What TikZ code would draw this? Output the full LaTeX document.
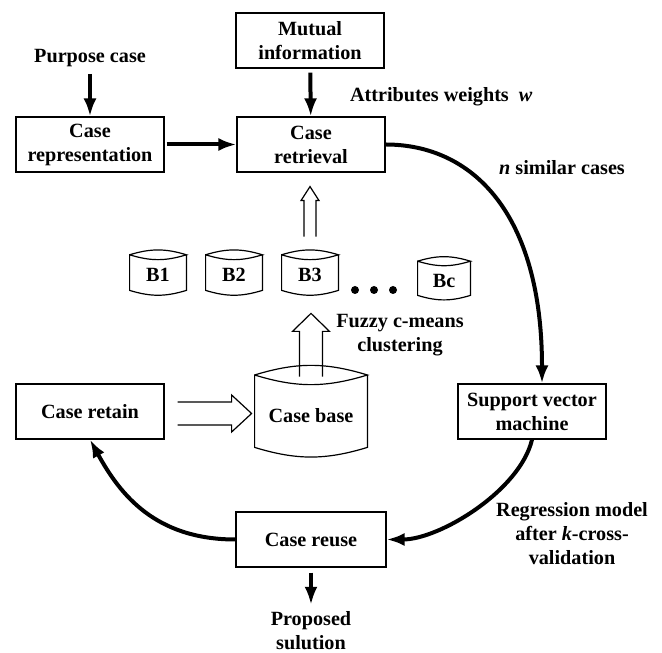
\documentclass[tikz,border=0pt]{standalone}
\usepackage{fontspec}
\setmainfont{Liberation Serif}
\usetikzlibrary{arrows.meta,calc}

\begin{document}
\begin{tikzpicture}[x=0.5pt, y=0.5pt,
  every node/.style={font=\fontsize{10.1}{12}\selectfont\bfseries, align=center},
  box/.style={draw, line width=0.6pt, minimum width=74pt, minimum height=27.5pt, inner sep=0pt},
  drum/.style={minimum width=#1, inner sep=0pt},
  flow/.style={line width=2pt, -{Latex[length=9pt,width=6.5pt]}},
  hollow/.style={line width=0.6pt, line join=miter}]
\useasboundingbox (0,0) rectangle (662,652);

\node (purpose) at (90,594) {Purpose case};
\node[box] (rep) at (90,507.5) {Case\\representation};
\node[box] (retr) at (311,507.5) {Case\\retrieval};
\node[box] (mutual) at (310,611.5) {Mutual\\information};
\node[box] (svm) at (532,240.5) {Support vector\\machine};
\node[box] (retain) at (90,240.5) {Case retain};
\node[box, minimum width=75pt] (reuse) at (311,112.5) {Case reuse};
\node (proposed) at (311,21) {Proposed\\sulution};

\node[drum=28pt, minimum height=15pt] (b1) at (158,377) {B1};
\node[drum=28pt, minimum height=15pt] (b2) at (234,377) {B2};
\node[drum=28pt, minimum height=15pt] (b3) at (310,377) {B3};
\node[drum=26pt, minimum height=14.5pt] (bc) at (444,371.5) {Bc};
\node[drum=56pt, minimum height=31pt] (base) at (311,236) {Case base};
\foreach \n/\d in {b1/2.4pt, b2/2.4pt, b3/2.4pt, bc/2.2pt, base/4.8pt}
  \draw[line width=0.6pt] ([yshift=\d]\n.north west) to[bend left=17] ([yshift=\d]\n.north east)
    to[bend left=17] ([yshift=\d]\n.north west) -- (\n.south west) to[bend right=17] (\n.south east)
    -- ([yshift=\d]\n.north east);
\foreach \i/\x in {1/355,2/374,3/393}
  \node[circle, fill, inner sep=0pt, minimum size=4pt] (dot\i) at (\x,362) {};

\node[anchor=west] (weights) at (343,555) {Attributes weights\enspace\textit{w}};
\node (similar) at (562,484) {\textit{n} similar cases};
\node (fuzzy) at (400,317) {Fuzzy c-means\\clustering};
\node (regress) at (572,118) {Regression model\\after \textit{k}-cross-\\validation};

\draw[flow] (purpose) -- (rep);
\draw[flow, shorten <=2pt] (mutual) -- (retr);
\draw[flow, shorten <=1pt] (rep) -- (retr);
\draw[flow, shorten <=2.5pt] (reuse) -- (proposed);
\draw[flow] (retr.east) .. controls +(87,0) and +(0,170) .. ([xshift=5pt]svm.north);
\draw[flow] (svm.south) .. controls +(-12,-51) and +(53,0) .. (reuse.east);
\draw[flow] (reuse.west) .. controls +(-80,0) and +(30,-55) .. (retain.south);

\draw[hollow] let \p1=([yshift=11.5pt]b3.north), \p2=([yshift=-7pt]retr.south) in
  (\x1-3pt,\y1) -- (\x1-3pt,\y2-7pt) -- (\x1-4.5pt,\y2-7pt) -- (\x1,\y2)
  -- (\x1+4.5pt,\y2-7pt) -- (\x1+3pt,\y2-7pt) -- (\x1+3pt,\y1);
\draw[hollow] let \p1=([yshift=4pt]base.north), \p2=([yshift=-11.5pt]b3.south) in
  (\x1-5.75pt,\y1) -- (\x1-5.75pt,\y2-9pt) -- (\x1-9.25pt,\y2-9pt) -- (\x1,\y2)
  -- (\x1+9.25pt,\y2-9pt) -- (\x1+5.75pt,\y2-9pt) -- (\x1+5.75pt,\y1);
\draw[hollow] let \p1=([xshift=6.5pt,yshift=-1pt]retain.east), \p2=([xshift=-1.5pt]base.west) in
  (\x1,\y1+5.75pt) -- (\x2-10pt,\y1+5.75pt) -- (\x2-10pt,\y1+9.25pt) -- (\x2,\y1)
  -- (\x2-10pt,\y1-9.25pt) -- (\x2-10pt,\y1-5.75pt) -- (\x1,\y1-5.75pt);
\end{tikzpicture}
\end{document}
